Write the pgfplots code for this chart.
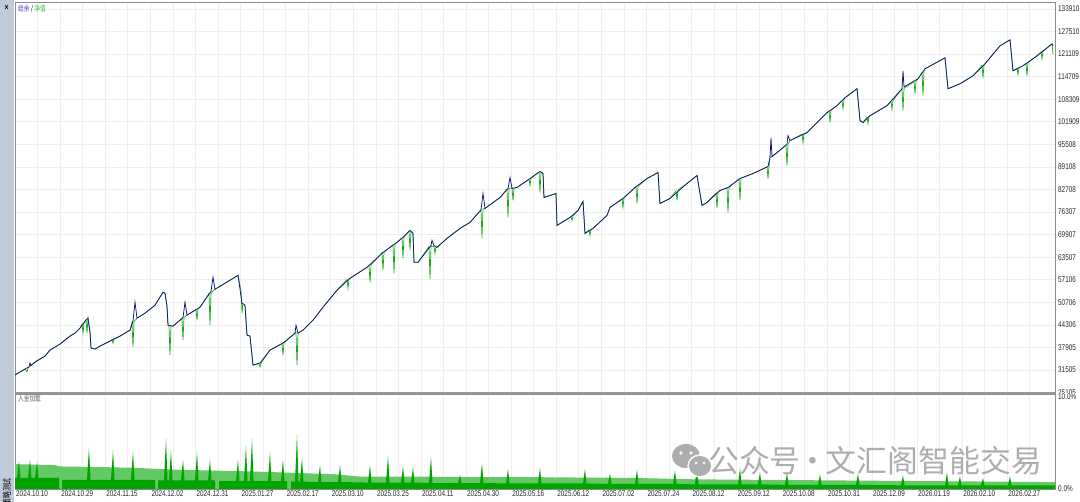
\documentclass[border=0pt]{standalone}
\usepackage{fontspec}
\setmainfont[FakeStretch=0.76]{Liberation Sans}
\newfontfamily\cjk[FakeStretch=0.76]{Noto Sans CJK SC}
\newfontfamily\wmfont{Noto Sans CJK SC}
\usepackage{pgfplots}
\pgfplotsset{compat=1.18}
\definecolor{strip}{RGB}{192,203,218}
\definecolor{gridgray}{RGB}{238,238,238}
\definecolor{axisgray}{RGB}{140,140,140}
\definecolor{sepgray}{RGB}{150,150,150}
\definecolor{balance}{RGB}{20,20,120}
\definecolor{equity}{RGB}{25,170,25}
\definecolor{lightg}{RGB}{100,200,100}
\definecolor{darkg}{RGB}{0,165,0}
\definecolor{legblue}{RGB}{70,70,200}
\definecolor{leggreen}{RGB}{60,190,60}
\definecolor{wmgray}{RGB}{165,165,165}
\begin{document}
\begin{tikzpicture}[x=1bp,y=1bp]
\useasboundingbox (0,0) rectangle (1080,502);
\fill[white] (0,0) rectangle (1080,502);
\fill[strip] (0,0) rectangle (14,502);
\node[font=\fontsize{9}{9}\selectfont\bfseries, inner sep=0] at (6.5,494) {×};
\node[rotate=90, anchor=east, font=\cjk\fontsize{9}{9}\selectfont, inner sep=0] at (7,24) {策略测试};

\begin{axis}[at={(15bp,109bp)}, anchor=south west, scale only axis,
  width=1040bp, height=391bp,
  xmin=0, xmax=1040, ymin=24963, ymax=135890,
  axis line style={draw=axisgray, line width=0.8bp},
  xtick={0,45.1,90.2,135.3,180.4,225.5,270.6,315.7,360.8,405.9,451,496.1,541.2,586.3,631.4,676.5,721.6,766.7,811.8,856.9,902,947.1,992.2},
  minor xtick={22.55,67.65,112.75,157.85,202.95,248.05,293.15,338.25,383.35,428.45,473.55,518.65,563.75,608.85,653.95,699.05,744.15,789.25,834.35,879.45,924.55,969.65,1014.75},
  xticklabels={},
  xmajorgrids, xminorgrids, ymajorgrids,
  ytick={25105,31505,37905,44306,50706,57106,63507,69907,76307,82708,89108,95508,101909,108309,114709,121109,127510,133910},
  yticklabels={25105,31505,37905,44306,50706,57106,63507,69907,76307,82708,89108,95508,101909,108309,114709,121109,127510,133910},
  yticklabel pos=right,
  major tick length=0pt, minor tick length=0pt,
  grid style={draw=gridgray, line width=0.6bp},
  minor grid style={draw=gridgray, line width=0.6bp},
  tick label style={font=\fontsize{8.4}{9}\selectfont, text=black!85},
  yticklabel style={anchor=west, inner sep=0pt, xshift=3bp},
]
\addplot[equity, line width=0.7bp] coordinates {
(0,30058) (5,30907) (10,31756) (12,31000) (13,32000) (15,32605) (20,33737) (25,34586) (30,35435) (35,37133) (40,37982) (45,38831) (50,39963) (55,41095) (60,41944) (65,43359) (67,44500) (68,41944) (69,44800) (71,45700) (72,41944) (73,46189) (75,42227) (76,37699) (80,37416) (85,38265) (95,39680) (97,40100) (98,39114) (99,40300) (105,41095) (115,42793) (117,44900) (118,37982) (119,45200) (122,46189) (130,47604) (140,49868) (148,53547) (150,53264) (152,49585) (153,44208) (154,44000) (155,35717) (156,44000) (158,43925) (167,46200) (168,39963) (169,46400) (172,47038) (181,48600) (182,45623) (183,48800) (185,49302) (194,53200) (195,44208) (196,53500) (200,54396) (210,56094) (223,58358) (226,54000) (227,47604) (228,50300) (230,49868) (232,41378) (235,41095) (238,32888) (244,33300) (245,32322) (246,33500) (255,37133) (267,39000) (268,35717) (269,39200) (280,41944) (281,42200) (282,32888) (283,41944) (288,42793) (298,45623) (308,49302) (322,54113) (332,57200) (333,54679) (334,57300) (335,57509) (352,60622) (354,61100) (355,56377) (356,61300) (367,64700) (368,59772) (369,64900) (378,67000) (379,58923) (380,67200) (382,67697) (387,69000) (388,63169) (389,69200) (394,71000) (395,65433) (396,70900) (398,70244) (399,62037) (403,62037) (414,66500) (415,57225) (416,66700) (419,66500) (420,64584) (421,66400) (422,66282) (432,68829) (445,71659) (455,73357) (466,76900) (467,68829) (468,77200) (470,77319) (485,80432) (492,82800) (493,74772) (494,83000) (497,83100) (498,79583) (499,83100) (502,83262) (514,85600) (515,83827) (516,85900) (524,87700) (525,81847) (526,87700) (528,87224) (529,80432) (535,80998) (541,81564) (542,72508) (555,74772) (556,75000) (557,73923) (558,75200) (563,76753) (568,79300) (570,70244) (574,71200) (575,69678) (576,71400) (578,71659) (592,75338) (595,77602) (607,80000) (608,77602) (609,80300) (620,83262) (621,83400) (622,78734) (623,83600) (632,85809) (643,87507) (645,78734) (655,80149) (661,82300) (662,79583) (663,82600) (672,84394) (682,86658) (687,78168) (692,79017) (701,81700) (702,77319) (703,82000) (705,82413) (712,83200) (713,76187) (714,83300) (724,85700) (725,79583) (726,85900) (738,87224) (752,89100) (753,85810) (754,89300) (755,91752) (762,93167) (771,95300) (772,89488) (773,95600) (775,96563) (787,98400) (788,96000) (789,98600) (792,98827) (802,101657) (812,104487) (814,105000) (815,101657) (816,105300) (822,106468) (827,107900) (828,105619) (829,108200) (830,108732) (842,111279) (845,102223) (848,101657) (852,103200) (853,101374) (854,103500) (855,103638) (872,106468) (876,107600) (877,105500) (878,108000) (887,111279) (888,105053) (889,111400) (899,113300) (900,109863) (901,113500) (903,114109) (907,115900) (908,109297) (909,116500) (910,116939) (930,120052) (933,111279) (945,112694) (958,114958) (967,117900) (968,114392) (969,118100) (970,118354) (985,123448) (995,125146) (998,116373) (1002,117000) (1003,115300) (1004,117200) (1008,117788) (1011,118500) (1012,114958) (1013,118700) (1022,120618) (1026,121700) (1027,119768) (1028,121900) (1037,124014) (1038,121183)
};
\addplot[balance, line width=0.75bp] coordinates {
(0,30058) (5,30907) (10,31756) (14,32400) (15,33500) (16,32700) (20,33737) (25,34586) (30,35435) (35,37133) (40,37982) (45,38831) (50,39963) (55,41095) (60,41944) (65,43359) (70,45340) (73,46189) (75,42227) (76,37699) (80,37416) (85,38265) (95,39680) (105,41095) (115,42793) (118,45340) (120,50717) (122,46189) (130,47604) (140,49868) (148,53547) (150,53264) (152,49585) (153,44208) (158,43925) (168,46300) (170,50717) (172,47038) (185,49302) (196,53800) (198,57792) (200,54396) (210,56094) (223,58358) (227,50434) (230,49868) (232,41378) (235,41095) (238,32888) (245,33454) (255,37133) (268,39114) (280,41944) (281,44208) (283,41944) (288,42793) (298,45623) (308,49302) (322,54113) (335,57509) (352,60622) (368,64867) (382,67697) (388,69112) (395,71093) (398,70244) (399,62037) (403,62037) (416,66800) (417,68263) (419,66800) (422,66282) (432,68829) (445,71659) (455,73357) (466,76900) (468,81564) (470,77319) (485,80432) (493,82979) (495,86092) (497,83000) (502,83262) (515,85809) (525,87790) (528,87224) (529,80432) (535,80998) (541,81564) (542,72508) (555,74772) (563,76753) (568,79300) (570,70244) (578,71659) (592,75338) (595,77602) (608,80149) (620,83262) (632,85809) (643,87507) (645,78734) (655,80149) (672,84394) (682,86658) (687,78168) (692,79017) (705,82413) (713,83262) (725,85809) (738,87224) (753,89205) (755,91752) (756,97412) (757,92000) (762,93167) (772,95500) (773,97978) (775,96563) (792,98827) (802,101657) (812,104487) (822,106468) (830,108732) (842,111279) (845,102223) (848,101657) (855,103638) (872,106468) (887,111279) (888,116373) (889,111800) (903,114109) (910,116939) (930,120052) (933,111279) (945,112694) (958,114958) (970,118354) (985,123448) (995,125146) (998,116373) (1008,117788) (1022,120618) (1037,124014) (1038,123448)
};
\end{axis}

\node[anchor=west, inner sep=0, font=\cjk\fontsize{7.5}{8}\selectfont] at (18,493) {\textcolor{legblue}{结余} / \textcolor{leggreen}{净值}};

\fill[white] (1056,0) rectangle (1080,108.5);

\begin{axis}[at={(15bp,13bp)}, anchor=south west, scale only axis,
  width=1040bp, height=95bp,
  xmin=0, xmax=1040, ymin=0, ymax=10.33,
  axis line style={draw=axisgray, line width=0.8bp},
  xtick={0,45.1,90.2,135.3,180.4,225.5,270.6,315.7,360.8,405.9,451,496.1,541.2,586.3,631.4,676.5,721.6,766.7,811.8,856.9,902,947.1,992.2},
  xticklabels={2024.10.10,2024.10.29,2024.11.15,2024.12.02,2024.12.31,2025.01.27,2025.02.17,2025.03.10,2025.03.25,2025.04.11,2025.04.30,2025.05.16,2025.06.12,2025.07.02,2025.07.24,2025.08.12,2025.09.12,2025.10.08,2025.10.31,2025.12.09,2026.01.19,2026.02.10,2026.02.27},
  minor xtick={22.55,67.65,112.75,157.85,202.95,248.05,293.15,338.25,383.35,428.45,473.55,518.65,563.75,608.85,653.95,699.05,744.15,789.25,834.35,879.45,924.55,969.65,1014.75},
  xmajorgrids, xminorgrids,
  ytick={0,10}, yticklabels={0.0\%,10.0\%},
  yticklabel pos=right,
  major tick length=0pt, minor tick length=0pt,
  grid style={draw=gridgray, line width=0.6bp},
  minor grid style={draw=gridgray, line width=0.6bp},
  tick label style={font=\fontsize{8.4}{9}\selectfont, text=black!85},
  yticklabel style={anchor=west, inner sep=0pt, xshift=3bp},
  xticklabel style={anchor=north west, inner sep=0pt, xshift=1bp, yshift=-1.5bp},
]
\addplot[fill=lightg, draw=none] coordinates {
(0,0) (0,2.7) (40,2.6) (45,2.45) (80,2.4) (120,2.3) (160,2.1) (200,2.0) (240,1.9) (280,1.75) (320,1.6) (345,1.35) (400,1.35) (450,1.3) (500,1.3) (560,1.25) (620,1.2) (680,1.05) (740,1.0) (800,0.95) (860,0.9) (920,0.85) (980,0.8) (1040,0.75) (1040,0)
} \closedcycle;
\addplot[fill=darkg, draw=none] coordinates {
(0,0) (0,1.2) (2,1.2) (4,3.0) (5.5,1.2) (13,1.2) (15,3.2) (16.5,1.2) (20,1.2) (22,2.9) (23.5,1.2) (44,1.2) (44,0) (47,0) (47,1.0) (72,1.0) (74,4.5) (75.5,1.0) (96,1.0) (98,4.2) (99.5,1.0) (116,1.0) (118,4.1) (119.5,1.0) (140,1.0) (140,0) (143,0) (143,0.95) (149,0.95) (151,5.5) (152.5,0.95) (154,0.95) (156,4.2) (157.5,0.95) (166,0.95) (168,3.2) (169.5,0.95) (180,0.95) (182,4.0) (183.5,0.95) (193,0.95) (195,3.2) (196.5,0.95) (200,0.95) (200,0) (204,0) (204,0.85) (221,0.85) (223,3.2) (224.5,0.85) (229,0.85) (231,4.7) (232.5,0.85) (235,0.85) (237,5.5) (238.5,0.85) (253,0.85) (255,4.0) (256.5,0.85) (266,0.85) (268,3.2) (269.5,0.85) (272,0.85) (272,0) (276,0) (276,0.8) (280,0.8) (282,5.9) (283.5,0.8) (285,0.8) (287,3.4) (288.5,0.8) (303,0.75) (305,2.6) (306.5,0.75) (323,0.75) (325,2.6) (326.5,0.75) (353,0.7) (355,2.6) (356.5,0.7) (371,0.7) (373,3.6) (374.5,0.7) (386,0.7) (388,2.5) (389.5,0.7) (396,0.7) (398,2.4) (399.5,0.7) (414,0.65) (416,3.5) (417.5,0.65) (443,0.65) (445,1.5) (446.5,0.65) (465,0.65) (467,2.8) (468.5,0.65) (491,0.6) (493,2.2) (494.5,0.6) (523,0.6) (525,2.3) (526.5,0.6) (568,0.6) (570,2.2) (571.5,0.6) (593,0.55) (595,1.7) (596.5,0.55) (620,0.55) (622,2.1) (623.5,0.55) (658,0.55) (660,2.0) (661.5,0.55) (680,0.5) (682,3.2) (683.5,0.5) (723,0.5) (725,2.3) (726.5,0.5) (743,0.5) (745,1.8) (746.5,0.5) (770,0.45) (772,1.8) (773.5,0.45) (803,0.45) (805,1.6) (806.5,0.45) (841,0.45) (843,1.7) (844.5,0.45) (886,0.4) (888,1.5) (889.5,0.4) (930,0.4) (932,1.8) (933.5,0.4) (943,0.4) (945,1.4) (946.5,0.4) (966,0.4) (968,1.2) (969.5,0.4) (993,0.4) (995,1.4) (996.5,0.4) (1040,0.4) (1040,0)
} \closedcycle;
\end{axis}

\draw[line width=2bp, sepgray] (15,108.5) -- (1055,108.5);
\node[anchor=west, inner sep=0, text=black!60, font=\cjk\fontsize{7.5}{8}\selectfont] at (18,103) {入金加载};

\begin{scope}[opacity=0.9]
\fill[wmgray] (686,46) ellipse (14 and 12);
\fill[white] (700,36) ellipse (12.8 and 11.8);
\fill[wmgray] (700,36) ellipse (11 and 10);
\fill[white] (681,49) circle (1.8) (691,49) circle (1.8) (696,39) circle (1.5) (704,39) circle (1.5);
\node[anchor=west, inner sep=0, text=wmgray, font=\wmfont\fontsize{31}{31}\selectfont] at (708,41) {公众号\kern-3bp·\kern-3bp文汇阁智能交易};
\end{scope}
\end{tikzpicture}
\end{document}
